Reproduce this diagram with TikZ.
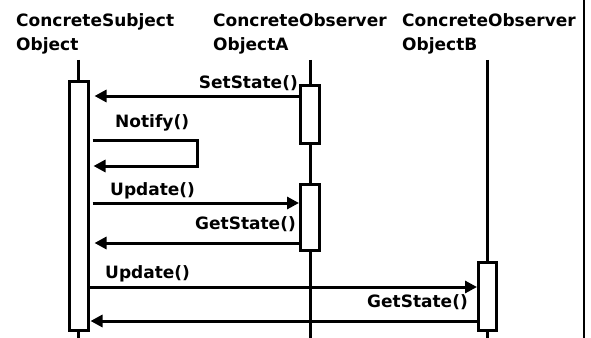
\documentclass[tikz,border=0pt]{standalone}
\usepackage{fontspec}
\setmainfont{DejaVu Sans}
\usetikzlibrary{arrows.meta,positioning}

\begin{document}
\begin{tikzpicture}[x=1pt, y=-1pt,
                txt/.style={font=\bfseries\fontsize{17}{24}\selectfont, inner sep=0pt},
                objt/.style={txt, align=left, anchor=north west},
                actv/.style={draw, line width=3pt, fill=white, inner sep=0pt, outer sep=1.5pt, minimum width=19pt},
                life/.style={line width=3pt},
                mesg/.style={-{Triangle[length=12pt, width=12pt]}, line width=3pt}
            ]
            \useasboundingbox (0,0) rectangle (591,337);

            % object headers
            \node[objt] (subj) at (16,13) {ConcreteSubject\\Object};
            \node[objt] (obsa) at (213,13) {ConcreteObserver\\ObjectA};
            \node[objt] (obsb) at (402,13) {ConcreteObserver\\ObjectB};

            % lifelines
            \coordinate (ls) at (78.5,60);
            \coordinate (la) at (310,60);
            \coordinate (lb) at (487.5,60);
            \draw[life] (ls) -- (ls |- 0,340);
            \draw[life] (la) -- (la |- 0,340);
            \draw[life] (lb) -- (lb |- 0,340);

            % frame line on the right
            \coordinate (fr) at (584,0);
            \draw[line width=2pt] (fr) -- (fr |- 0,340);

            % activations
            \node[actv, minimum height=249pt] (s)  at (78.5,206) {};
            \node[actv, minimum height=58pt]  (a1) at (310,114.5) {};
            \node[actv, minimum height=66pt]  (a2) at (310,217.5) {};
            \node[actv, minimum height=68pt, minimum width=18pt] (b) at (487.5,296.5) {};

            % messages
            \draw[mesg, shorten >=5pt] (a1.west |- 0,96) -- (s.east |- 0,96);
            \node[txt, anchor=base east] (m1) at (298,88.5) {SetState()};

            \draw[mesg, shorten <=3pt, shorten >=4pt] (s.east |- 0,140) -| (197,166) -- (s.east |- 0,166);
            \node[txt, anchor=base west] (m2) at (115,127.5) {Notify()};

            \draw[mesg, shorten <=3pt] (s.east |- 0,203) -- (a2.west |- 0,203);
            \node[txt, anchor=base west] (m3) at (110,195) {Update()};

            \draw[mesg, shorten >=5pt] (a2.west |- 0,243) -- (s.east |- 0,243);
            \node[txt, anchor=base east] (m4) at (296,229) {GetState()};

            \draw[mesg] (s.east |- 0,287) -- (b.west |- 0,287);
            \node[txt, anchor=base west] (m5) at (105,278.5) {Update()};

            \draw[mesg, shorten >=1pt] (b.west |- 0,321) -- (s.east |- 0,321);
            \node[txt, anchor=base east] (m6) at (468,307.5) {GetState()};
        \end{tikzpicture}
\end{document}
